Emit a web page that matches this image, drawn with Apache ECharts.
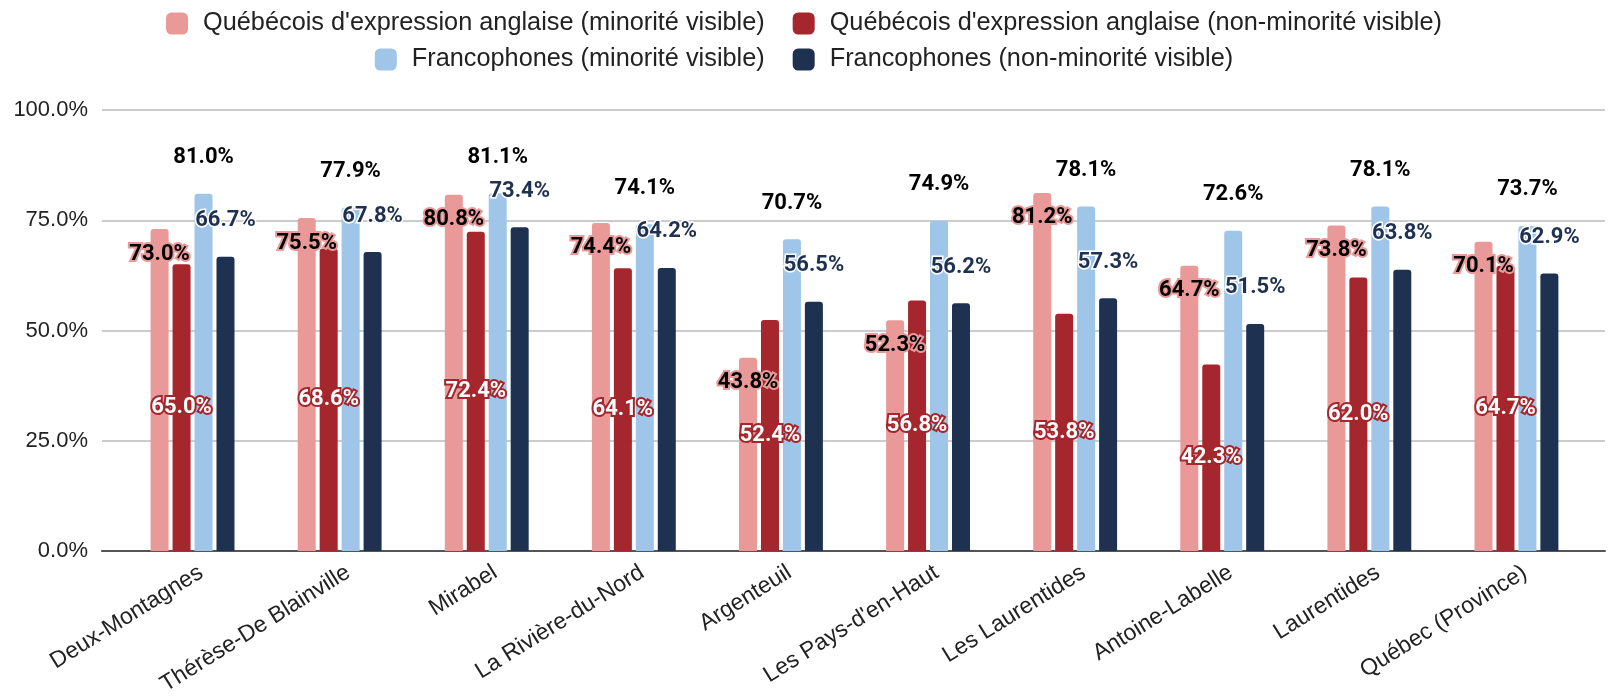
<!DOCTYPE html>
<html>
<head>
<meta charset="utf-8">
<script src="https://cdn.jsdelivr.net/npm/echarts@6/dist/echarts.min.js"></script>
<style>
  html, body { margin: 0; padding: 0; background: #fff; }
  #chart { width: 1608px; height: 698px; }
</style>
</head>
<body>
<div id="chart"></div>
<script>
// categories (régions)
var regions = ['Deux-Montagnes', 'Thérèse-De Blainville', 'Mirabel', 'La Rivière-du-Nord', 'Argenteuil',
  "Les Pays-d'en-Haut", 'Les Laurentides', 'Antoine-Labelle', 'Laurentides', 'Québec (Province)'];

var seriesNames = [
  "Québécois d'expression anglaise (minorité visible)",
  "Québécois d'expression anglaise (non-minorité visible)",
  'Francophones (minorité visible)',
  'Francophones (non-minorité visible)'
];

// valeurs en %
var angloMinorite = [73.0, 75.5, 80.8, 74.4, 43.8, 52.3, 81.2, 64.7, 73.8, 70.1];
var angloNonMinorite = [65.0, 68.6, 72.4, 64.1, 52.4, 56.8, 53.8, 42.3, 62.0, 64.7];
var francoMinorite = [81.0, 77.9, 81.1, 74.1, 70.7, 74.9, 78.1, 72.6, 78.1, 73.7];
var francoNonMinorite = [66.7, 67.8, 73.4, 64.2, 56.5, 56.2, 57.3, 51.5, 63.8, 62.9];

var yTicks = [0, 25, 50, 75, 100];

var colors = ['#ea9999', '#a5262c', '#9fc5e8', '#1f3151'];

var chart = echarts.init(document.getElementById('chart'));

function pct(p) {
  return p.value.toFixed(1) + '%';
}

var labelFont = { fontFamily: 'Roboto', fontWeight: 'bold', fontSize: 22 };

function barSeries(i, data, label) {
  return {
    name: seriesNames[i],
    type: 'bar',
    xAxisIndex: 1,
    yAxisIndex: 1,
    barWidth: 18,
    barGap: '22%',
    itemStyle: { color: colors[i], borderRadius: [3, 3, 0, 0] },
    label: Object.assign({ show: true, formatter: pct }, labelFont, label),
    data: data
  };
}

var legendText = { fontFamily: 'Liberation Sans', fontSize: 25.3, color: '#222', padding: [0, 0, 0, 10] };

var option = {
  animation: false,
  color: colors,
  legend: [
    {
      data: [seriesNames[0], seriesNames[1]],
      top: 6, left: 'center',
      icon: 'roundRect', itemWidth: 22, itemHeight: 22, itemGap: 28,
      textStyle: legendText
    },
    {
      data: [seriesNames[2], seriesNames[3]],
      top: 42, left: 'center',
      icon: 'roundRect', itemWidth: 22, itemHeight: 22, itemGap: 28,
      textStyle: legendText
    }
  ],
  grid: [
    { left: 102, right: 3, top: 110, bottom: 147 },
    { left: 119, right: 18, top: 110, bottom: 147 }
  ],
  xAxis: [
    {
      gridIndex: 0, type: 'value', min: 0, max: 1,
      axisLine: { show: true, lineStyle: { color: '#555', width: 2 } },
      axisTick: { show: false }, axisLabel: { show: false }, splitLine: { show: false }
    },
    {
      gridIndex: 1, type: 'category', data: regions,
      axisLine: { show: false }, axisTick: { show: false },
      axisLabel: {
        rotate: 32, margin: 25, interval: 0, padding: [0, -10, 0, 0],
        fontFamily: 'Liberation Sans', fontSize: 23, color: '#222'
      }
    }
  ],
  yAxis: [
    {
      gridIndex: 0, type: 'value', min: yTicks[0], max: yTicks[yTicks.length - 1], interval: 25,
      axisLine: { show: false }, axisTick: { show: false },
      axisLabel: {
        margin: 14, fontFamily: 'Liberation Sans', fontSize: 22, color: '#222',
        formatter: function (v) { return v.toFixed(1) + '%'; }
      },
      splitLine: { lineStyle: { color: '#cccccc', width: 2 } }
    },
    { gridIndex: 1, type: 'value', min: 0, max: 100, show: false }
  ],
  series: [
    barSeries(0, angloMinorite, {
      position: 'insideTop', distance: 14, color: '#000',
      textBorderColor: colors[0], textBorderWidth: 4
    }),
    barSeries(1, angloNonMinorite, {
      position: 'inside', color: '#fff',
      textBorderColor: colors[1], textBorderWidth: 4
    }),
    barSeries(2, francoMinorite, {
      position: 'top', distance: 25, color: '#000',
      textBorderColor: '#fff', textBorderWidth: 3
    }),
    barSeries(3, francoNonMinorite, {
      position: 'top', distance: 25, color: colors[3],
      textBorderColor: '#fff', textBorderWidth: 3
    })
  ]
};

chart.setOption(option);
</script>
</body>
</html>
